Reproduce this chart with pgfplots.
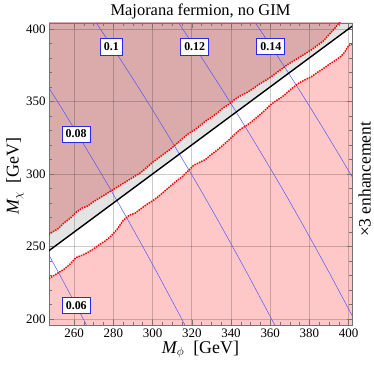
\documentclass[border=0pt]{standalone}
\usepackage{fontspec}
\setmainfont{Liberation Serif}
\usepackage{pgfplots}
\pgfplotsset{compat=1.18}
\usepackage{pgfplotstable}
\usepgfplotslibrary{fillbetween}

\definecolor{excl}{RGB}{219,170,170}
\definecolor{pinkreg}{RGB}{255,200,200}
\definecolor{band}{RGB}{228,228,228}
\definecolor{contour}{RGB}{85,85,245}
\definecolor{labbox}{RGB}{40,40,230}

% upper boundary of the grey band (M_phi, M_chi)
\pgfplotstableread{
mphi mchi
246 257.5
249 260
252 262.5
255 266.5
258 269.5
261 273.5
264 276.5
267 278
270 281
273 283.5
276 286
279 288.5
282 291
285 293.5
288 296
291 298.5
294 301
297 304.5
300 308
303 311
306 314
309 317
312 320.5
315 324
318 327.5
321 330
324 333
327 336.5
330 339
333 342
336 345.5
339 348
342 351.5
345 354
348 356
351 358.5
354 361.5
357 364
360 366.5
363 369.5
366 372.5
369 375.5
372 378
375 380.5
378 383
381 385.5
384 388.5
387 391.5
390 396
393 400.5
395 404
398 408
}\upperedge

% lower boundary of the white band
\pgfplotstableread{
mphi mchi
246 227
249 229.5
252 232
255 234.5
258 238
261 242.5
264 244
267 246
270 248.5
273 251.5
276 254
279 257.5
282 262
285 268
288 271.5
291 273
294 276
297 279
300 281.5
303 284.5
306 288
309 291.5
312 295
315 298
318 302
321 306
324 308
327 310
330 313.5
333 316.5
336 320
339 323.5
342 327.5
345 331
348 333.5
351 336.5
354 340
357 343.5
360 347.5
363 350.5
366 353
369 356.5
372 360
375 363
378 365
381 367
384 370
387 372.5
390 375.5
393 378
396 381
398 384
400 388.5
403 390
}\loweredge

\begin{document}
\begin{tikzpicture}
\begin{axis}[
    set layers,
    scale only axis,
    width=303bp, height=302bp,
    xmin=247.2, xmax=401.7,
    ymin=196, ymax=404,
    xtick={260,280,...,400},
    ytick={200,250,...,400},
    minor x tick num=3,
    minor y tick num=4,
    tick align=inside,
    major tick length=5bp,
    minor tick length=3bp,
    axis line style={black!55},
    tick style={black!55, line width=0.5pt},
    grid=major,
    grid style={black, opacity=0.2, line width=0.6pt},
    tick label style={font=\fontsize{13}{15}\selectfont},
    /pgf/number format/assume math mode=true,
    fill between/on layer=axis background,
    xlabel={$\mathit{M}_\phi$\ \ [GeV]},
    xlabel style={font=\fontsize{18}{21}\selectfont, at={(axis description cs:0.5,-0.093)}, anchor=base},
    ylabel={$\mathit{M}_\chi$\ \ [GeV]},
    ylabel style={font=\fontsize{18}{21}\selectfont, at={(axis description cs:-0.1,0.493)}, anchor=base},
]
\addplot[name path=up, draw=none, forget plot] table[x=mphi, y=mchi] {\upperedge};
\addplot[name path=lo, draw=none, forget plot] table[x=mphi, y=mchi] {\loweredge};
\addplot[name path=top, draw=none, forget plot] coordinates {(240,410) (410,410)};
\addplot[name path=bot, draw=none, forget plot] coordinates {(240,190) (410,190)};
\addplot[name path=diag, draw=none, forget plot] coordinates {(240,240) (410,410)};

\addplot[excl, forget plot] fill between[of=up and top];
\addplot[band, forget plot] fill between[of=up and diag];
\addplot[pinkreg, forget plot] fill between[of=lo and bot];

% contours
\addplot[contour, line width=0.5pt, smooth] coordinates {(240.7,260) (252.9,230) (266.3,196)};
\addplot[contour, line width=0.5pt, smooth] coordinates {(237.3,380) (251.5,350) (265.1,320) (278.3,290) (290.9,260) (303.1,230) (316.5,196)};
\addplot[contour, line width=0.5pt, smooth] coordinates {(271.3,404) (283.1,380) (297.3,350) (310.9,320) (324.1,290) (336.7,260) (348.9,230) (362.3,196)};
\addplot[contour, line width=0.5pt, smooth] coordinates {(313.3,404) (325.1,380) (339.3,350) (352.9,320) (366.1,290) (378.7,260) (390.9,230) (404.3,196)};
\addplot[contour, line width=0.5pt, smooth] coordinates {(352.5,404) (364.3,380) (378.5,350) (392.1,320) (405.3,290)};

% boundaries
\addplot[black, line width=1.4pt] coordinates {(240,240) (410,410)};
\addplot[red, line width=1.5pt, dash pattern=on 1.5pt off 1pt] table[x=mphi, y=mchi] {\upperedge};
\addplot[red, line width=1.5pt, dash pattern=on 1.5pt off 1pt] table[x=mphi, y=mchi] {\loweredge};

\tikzset{lab/.style={draw=labbox, fill=white, line width=0.9pt, inner xsep=3.5bp, inner ysep=4bp,
    font=\bfseries\fontsize{12}{14}\selectfont}}
\node[lab] at (axis cs:279,387.5) {0.1};
\node[lab] at (axis cs:321.5,387.5) {0.12};
\node[lab] at (axis cs:360.3,388) {0.14};
\node[lab] at (axis cs:261,327.5) {0.08};
\node[lab] at (axis cs:261.1,209.4) {0.06};
\end{axis}
\node[anchor=base, font=\fontsize{16.5}{19}\selectfont] at ([yshift=7.5bp]current axis.north) {Majorana fermion, no GIM};
\node[rotate=90, anchor=base, font=\fontsize{17.5}{21}\selectfont] at ([xshift=18.5bp, yshift=-5.5bp]current axis.east) {×3 enhancement};
\pgfresetboundingbox
\path[use as bounding box] ([shift={(-49bp,-42bp)}]current axis.south west) rectangle ([shift={(22bp,23bp)}]current axis.north east);
\end{tikzpicture}
\end{document}
